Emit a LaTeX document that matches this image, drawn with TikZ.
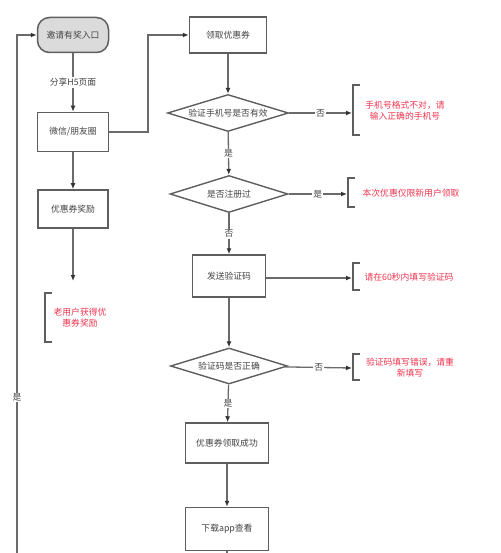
\documentclass[tikz,border=0pt]{standalone}
\usepackage{fontspec}
\setmainfont{Noto Sans CJK SC}
\usetikzlibrary{shapes.geometric,arrows.meta}
\definecolor{boxgray}{HTML}{5E5E5E}
\definecolor{linegray}{HTML}{6A6A6A}
\definecolor{txtgray}{HTML}{444444}
\definecolor{notered}{HTML}{F0344E}
\tikzset{
  stepbox/.style={draw=boxgray, line width=1.5pt, fill=white, text=txtgray, font=\fontsize{8.8}{10}\selectfont},
  startbox/.style={stepbox, rounded corners=12pt, fill=black!14},
  decide/.style={diamond, draw=boxgray, line width=1.4pt, aspect=3.2, inner sep=0pt, text=txtgray, font=\fontsize{8.8}{10}\selectfont},
  flow/.style={draw=linegray, line width=1.3pt, -{Latex[length=6pt,width=5pt,color=black!80]}},
  flat/.style={draw=linegray, line width=1.3pt},
  lbl/.style={fill=white, inner sep=1pt, text=txtgray, font=\fontsize{8.8}{10}\selectfont},
  notetxt/.style={text=notered, align=center, font=\fontsize{8.8}{11}\selectfont},
}
\newcommand{\bracketL}[3]{ \draw[boxgray, line width=1.6pt] ( #1 + 7 , #2 ) -- ( #1 , #2 ) -- ( #1 , #3 ) -- ( #1 + 7 , #3 );}

\begin{document}
\begin{tikzpicture}[x=1pt, y=-1pt]
\useasboundingbox (0,0) rectangle (500,553);
% left column
\node[startbox, minimum width=71pt, minimum height=35pt] (invite) at (73,35) {邀请有奖入口};
\node[stepbox, minimum width=71pt, minimum height=39pt] (wechat) at (73,132) {微信/朋友圈};
\node[stepbox, minimum width=70pt, minimum height=38pt] (reward) at (73,209) {优惠券奖励};
\bracketL{45}{293}{342}
\node[notetxt] (oldnote) at (80,318) {老用户获得优\\惠券奖励};
\coordinate (oldend) at (73,281);
\coordinate (loopbot) at (17,553);
\coordinate (loopcnr) at (17,35);
% right column
\node[stepbox, minimum width=77pt, minimum height=36pt] (coupon) at (228,35) {领取优惠券};
\node[decide, minimum width=121pt, minimum height=37pt] (phone) at (228,113) {验证手机号是否有效};
\node[decide, minimum width=118pt, minimum height=37pt] (reg) at (229,194) {是否注册过};
\node[stepbox, minimum width=73pt, minimum height=42pt] (send) at (229,276) {发送验证码};
\node[decide, minimum width=117pt, minimum height=36pt] (code) at (229,366) {验证码是否正确};
\node[stepbox, minimum width=83pt, minimum height=40pt] (done) at (227,443) {优惠券领取成功};
\node[stepbox, minimum width=83pt, minimum height=43pt] (app) at (227,529) {下载app查看};
\coordinate (append) at (227,553);
% notes
\bracketL{353}{85}{135}
\node[notetxt] (n1) at (405,111) {手机号格式不对，请\\输入正确的手机号};
\bracketL{348}{178}{207}
\node[notetxt] (n2) at (411,193) {本次优惠仅限新用户领取};
\bracketL{353}{263}{290}
\node[notetxt] (n3) at (409,277) {请在60秒内填写验证码};
\bracketL{353}{354}{380}
\node[notetxt] (n4) at (410,368) {验证码填写错误，请重\\新填写};
\coordinate (b1) at (352,113);
\coordinate (b2) at (347,194);
\coordinate (b3) at (352,278);
\coordinate (b4) at (352,368);
\coordinate (wturn) at (148,132);
\coordinate (wtop) at (148,35);

% connectors
\draw[flow] (invite) -- node[lbl] {分享H5页面} (wechat);
\draw[flow] (wechat) -- (reward);
\draw[flow] (reward) -- (oldend);
\draw[flow] (loopbot) -- node[lbl, pos=0.3] {是} (loopcnr) -- (invite);
\draw[flow] (wechat) -- (wturn) -- (wtop) -- (coupon);
\draw[flow] (coupon) -- (phone);
\draw[flow] (phone) -- node[lbl] {否} (b1);
\draw[flow] (phone) -- node[lbl] {是} (reg);
\draw[flow] (reg) -- node[lbl] {是} (b2);
\draw[flow] (reg) -- node[lbl] {否} (send);
\draw[flow] (send.east |- b3) -- (b3);
\draw[flow] (send) -- (code);
\draw[flow] (code) -- node[lbl] {否} (b4);
\draw[flow] (code) -- node[lbl] {是} (done);
\draw[flow] (done) -- (app);
\draw[flat] (app) -- (append);
\end{tikzpicture}
\end{document}
